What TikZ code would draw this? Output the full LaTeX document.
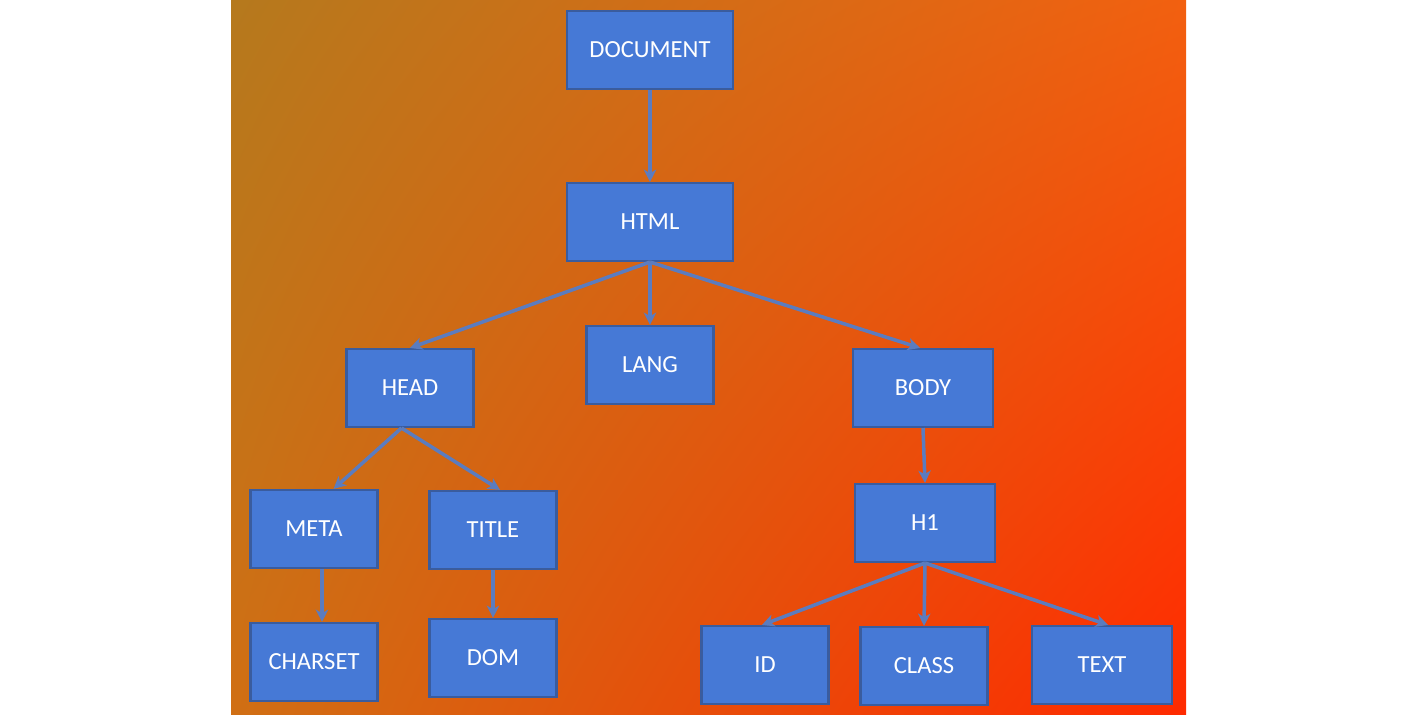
\documentclass[tikz,border=0pt]{standalone}
\usepackage{fontspec}
\setmainfont{Carlito}
\usepackage{tikz}
\usetikzlibrary{arrows.meta,shadings}
\definecolor{boxblue}{HTML}{4679D6}
\definecolor{boxedge}{HTML}{3A5C9E}
\definecolor{linkblue}{HTML}{5B7CBF}
\definecolor{bgtl}{HTML}{B5791D}
\definecolor{bgtr}{HTML}{F26010}
\definecolor{bgbl}{HTML}{D06F14}
\definecolor{bgbr}{HTML}{FF2A00}
\tikzstyle{arrow} = [linkblue, line width=2pt, -{Stealth[length=7pt, width=7pt, inset=2pt]}]
\tikzset{
 tag/.style
  = {rectangle, draw=boxedge, line width=1.2pt, fill=boxblue, text=white,
     minimum height=1.56cm, text centered, font=\fontsize{14}{16}\selectfont},
 wide/.style
  = {tag, minimum width=3.32cm},
 mid/.style
  = {tag, minimum width=2.8cm},
 narrow/.style
  = {tag, minimum width=2.54cm},
}

\begin{document}
\begin{tikzpicture}[x=0.02cm, y=-0.02cm]

% Page and background
\useasboundingbox (0,0) rectangle (1416,715);
\shade[upper left=bgtl, upper right=bgtr, lower left=bgbl, lower right=bgbr]
  (231,0) rectangle (1186,715);

% Top of the tree
\node[wide] (document) at (650,50) {DOCUMENT};
\node[wide] (html) at (650,222) {HTML};

% Children of HTML
\node[narrow] (head) at (410,388) {HEAD};
\node[narrow] (lang) at (650,365) {LANG};
\node[mid] (body) at (923,388) {BODY};

% Head branch
\node[narrow] (meta) at (314,529) {META};
\node[narrow] (title) at (493,530) {TITLE};
\node[narrow] (charset) at (314,662) {CHARSET};
\node[narrow] (dom) at (493,658) {DOM};

% Body branch
\node[mid] (h1) at (925,523) {H1};
\node[narrow] (id) at (765,665) {ID};
\node[narrow] (class) at (924,666) {CLASS};
\node[mid] (text) at (1102,665) {TEXT};

% Links
\draw[arrow] (document.south) -- (html.north);
\draw[arrow] (html.south) -- (head.north);
\draw[arrow] (html.south) -- (lang.north);
\draw[arrow] (html.south) -- ([xshift=-0.06cm]body.north);
\draw[arrow] (head.258) -- (meta.64);
\draw[arrow] (head.258) -- (title.80);
\draw[arrow] ([xshift=0.16cm]meta.south) -- ([xshift=0.16cm]charset.north);
\draw[arrow] (title.south) -- (dom.north);
\draw[arrow] (body.south) -- (h1.north);
\draw[arrow] (h1.south) -- ([xshift=-0.06cm]id.north);
\draw[arrow] (h1.south) -- (class.north);
\draw[arrow] (h1.south) -- ([xshift=0.12cm]text.north);

\end{tikzpicture}
\end{document}
